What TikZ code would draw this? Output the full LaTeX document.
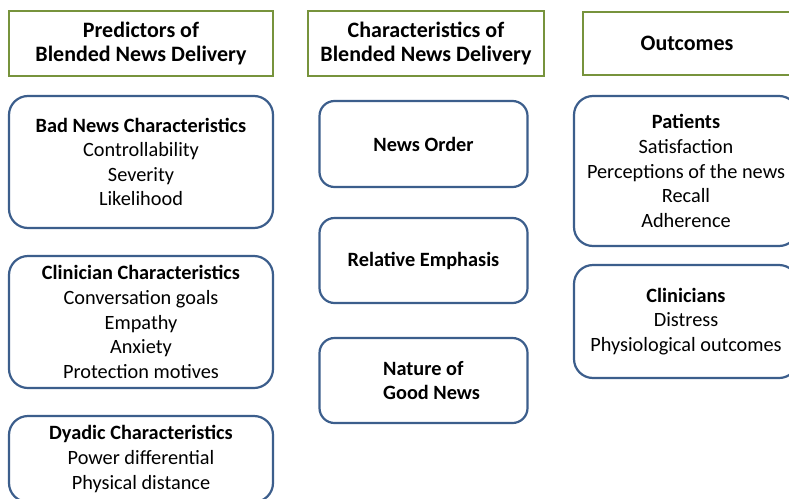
\documentclass[tikz,border=0pt]{standalone}
\usepackage{fontspec}
\setmainfont{Carlito}
\definecolor{hgreen}{RGB}{119,147,60}
\definecolor{bblue}{RGB}{60,94,140}
\begin{document}
\begin{tikzpicture}[x=1pt,y=-1pt,
  hdr/.style={draw=hgreen, line width=2.6pt, inner sep=0pt, align=center,
    font=\bfseries\fontsize{22}{24}\selectfont},
  rbox/.style={draw=bblue, line width=2.2pt, rounded corners=19pt, inner sep=0pt, align=center,
    font=\fontsize{20.3}{24.6}\selectfont},
  mbox/.style={rbox, rounded corners=15pt, font=\bfseries\fontsize{20.3}{24.6}\selectfont}]
\useasboundingbox (0,0) rectangle (789,498);
\clip (0,0) rectangle (789,498);
\fill[white] (0,0) rectangle (789,498);
% headers
\node[hdr, minimum width=264pt, minimum height=65pt] (h1) at (141,43.5) {Predictors of\\Blended News Delivery};
\node[hdr, minimum width=236pt, minimum height=65pt] (h2) at (426,43.5) {Characteristics of\\Blended News Delivery};
\node[hdr, minimum width=208pt, minimum height=63pt] (h3) at (687,43.5) {Outcomes};
% left column
\node[rbox, minimum width=264pt, minimum height=132pt] (b1) at (141,162) {\textbf{Bad News Characteristics}\\Controllability\\Severity\\Likelihood};
\node[rbox, minimum width=264pt, minimum height=132pt] (b2) at (141,322) {\textbf{Clinician Characteristics}\\Conversation goals\\Empathy\\Anxiety\\Protection motives};
\node[rbox, minimum width=264pt, minimum height=86pt] (b3) at (141,459) {\textbf{Dyadic Characteristics}\\Power differential\\Physical distance};
% middle column
\node[mbox, minimum width=208pt, minimum height=86pt] (m1) at (423.5,144) {News Order};
\node[mbox, minimum width=208pt, minimum height=85pt] (m2) at (423.5,260.5) {Relative Emphasis};
\node[mbox, minimum width=208pt, minimum height=85pt] (m3) at (423.5,380.5) {};
\node[anchor=west, inner sep=0pt, align=left, font=\bfseries\fontsize{20.3}{24.6}\selectfont] (m3t) at (383,380.5) {Nature of\\Good News};
% right column
\node[rbox, minimum width=224pt, minimum height=150pt] (o1) at (686,171) {\textbf{Patients}\\Satisfaction\\Perceptions of the news\\Recall\\Adherence};
\node[rbox, minimum width=224pt, minimum height=113pt] (o2) at (686,321.5) {\textbf{Clinicians}\\Distress\\Physiological outcomes};
\end{tikzpicture}
\end{document}
